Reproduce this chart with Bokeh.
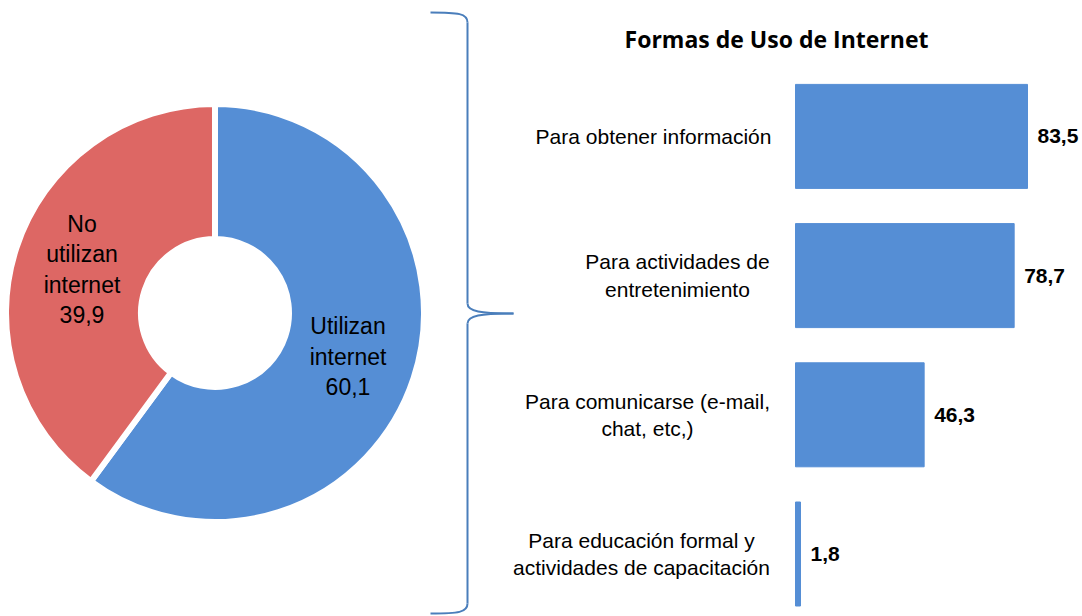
import math
from bokeh.plotting import figure
from bokeh.models import Range1d, ColumnDataSource
from bokeh.core.properties import value
from bokeh.embed import file_html
from bokeh.resources import INLINE

# ---- data ----
donut_labels = ["Utilizan\ninternet\n60,1", "No\nutilizan\ninternet\n39,9"]
donut_values = [60.1, 39.9]
donut_colors = ["#558ED5", "#DD6764"]

bar_categories = [
    "Para obtener información",
    "Para actividades de\nentretenimiento",
    "Para comunicarse (e-mail,\nchat, etc,)",
    "Para educación formal y\nactividades de capacitación",
]
bar_values = [83.5, 78.7, 46.3, 1.8]
bar_value_labels = ["83,5", "78,7", "46,3", "1,8"]
title_text = "Formas de Uso de Internet"

FONT = "Liberation Sans"
W, H = 1082, 616

# bar-chart data ranges (main scales)
px_per_unit = 232 / 83.5
x0_ref = 795
step = 139.2
y0_ref = 553.5
xr = Range1d((0 - x0_ref) / px_per_unit, (W - x0_ref) / px_per_unit)
yr = Range1d(-(H - y0_ref) / step, (y0_ref - 0) / step)

p = figure(width=W, height=H, x_range=xr, y_range=yr, output_backend="svg",
           toolbar_location=None, min_border=0)
p.axis.visible = False
p.grid.visible = False
p.outline_line_color = None
p.background_fill_color = "white"
p.border_fill_color = "white"

# pixel-based extra ranges for the donut and the brace
p.extra_x_ranges = {"px": Range1d(0, W)}
p.extra_y_ranges = {"px": Range1d(0, H)}

def fy(y):
    return H - y

# ---- donut ----
cx, cy = 214.5, fy(312.5)
total = sum(donut_values)
starts, ends, lx, ly = [], [], [], []
a = math.pi / 2
for v in donut_values:
    span = 2 * math.pi * v / total
    s, e = a - span, a
    starts.append(s); ends.append(e)
    mid = (s + e) / 2
    lx.append(cx + 140 * math.cos(mid)); ly.append(cy + 140 * math.sin(mid))
    a = s

src = ColumnDataSource(dict(start=starts, end=ends, color=donut_colors,
                            label=donut_labels, lx=lx, ly=ly))
p.annular_wedge(x=cx, y=cy, inner_radius=74, outer_radius=209,
                inner_radius_units="screen", outer_radius_units="screen",
                start_angle="start", end_angle="end", fill_color="color",
                line_color="white", line_width=6, source=src,
                x_range_name="px", y_range_name="px")
p.text(x="lx", y="ly", text="label", source=src, text_align="center",
       text_baseline="middle", text_font=value(FONT), text_font_size="23px",
       text_line_height=1.17, text_color="black",
       x_range_name="px", y_range_name="px")

# ---- brace ----
bc = "#4A7EBB"
bx = 467
p.bezier(x0=[430, bx, 513, bx], y0=[fy(12), fy(303), fy(313), fy(603)],
         x1=[bx, 513, bx, 430], y1=[fy(22), fy(313), fy(323), fy(613)],
         cx0=[458, bx, 480, bx], cy0=[fy(12), fy(311), fy(313), fy(612)],
         cx1=[bx, 480, bx, 458], cy1=[fy(13), fy(313), fy(315), fy(613)],
         line_color=bc, line_width=2, x_range_name="px", y_range_name="px")
p.segment(x0=[bx, bx], y0=[fy(22), fy(323)], x1=[bx, bx], y1=[fy(303), fy(603)],
          line_color=bc, line_width=2, x_range_name="px", y_range_name="px")

# ---- bars ----
n = len(bar_categories)
ypos = [n - 1 - i for i in range(n)]
label_cx_px = [653, 677, 647, 641]
label_x = [(c - x0_ref) / px_per_unit for c in label_cx_px]
bsrc = ColumnDataSource(dict(y=ypos, v=bar_values, cat=bar_categories,
                             vl=bar_value_labels, lx=label_x))
p.hbar(y="y", left=0, right="v", height=104 / step, source=bsrc,
       fill_color="#558ED5", line_color="#558ED5")
p.text(x="lx", y="y", text="cat", source=bsrc, text_align="center",
       text_baseline="middle", text_font=value(FONT), text_font_size="21px",
       text_line_height=1.2, text_color="black")
p.text(x="v", y="y", text="vl", source=bsrc, x_offset=10, text_align="left",
       text_baseline="middle", text_font=value(FONT), text_font_size="21px",
       text_font_style="bold", text_color="black")
p.text(x=[(776 - x0_ref) / px_per_unit], y=[(y0_ref - 38) / step], text=[title_text],
       text_align="center", text_baseline="middle", text_font=value("Open Sans"),
       text_font_size="23px", text_font_style="bold", text_color="black")

open("out.html", "w").write(file_html(p, INLINE))
